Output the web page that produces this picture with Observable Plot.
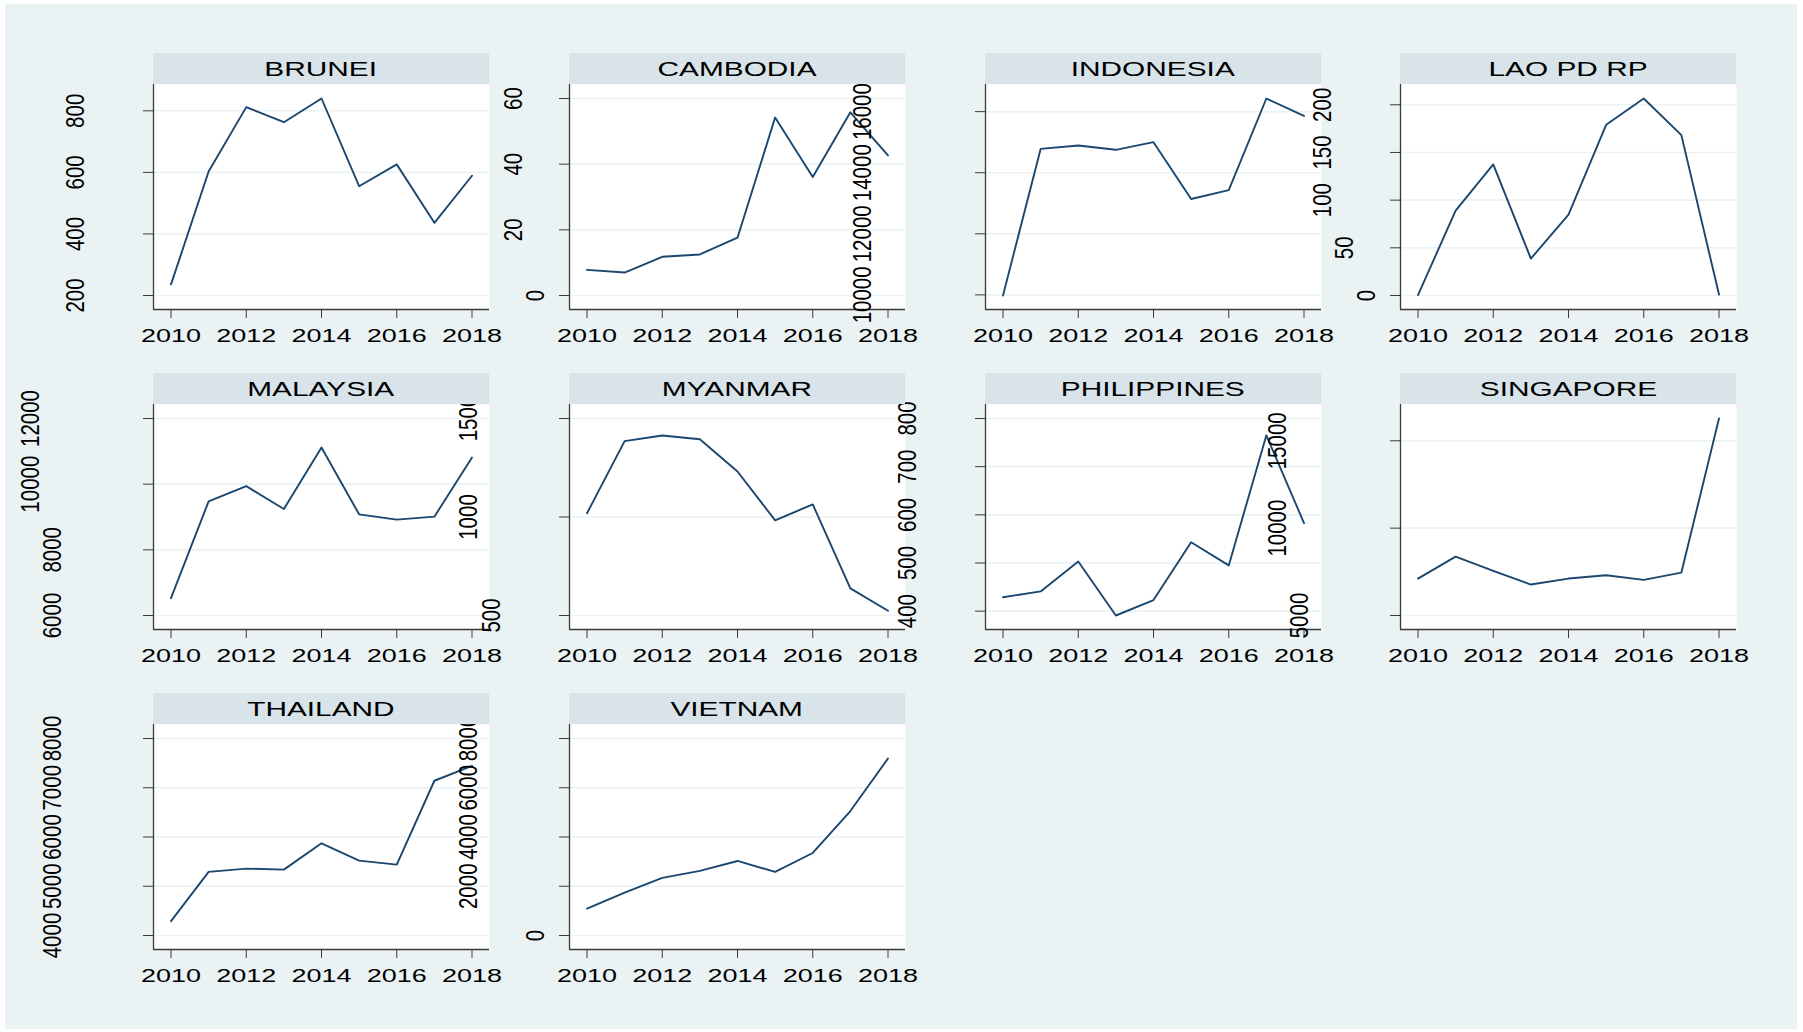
<!DOCTYPE html>
<html>
<head>
<meta charset="utf-8">
<script src="https://cdn.jsdelivr.net/npm/d3@7"></script>
<script src="https://cdn.jsdelivr.net/npm/@observablehq/plot@0.6"></script>
<style>
  html, body { margin: 0; padding: 0; background: #ffffff; }
  #root { position: relative; width: 1803px; height: 1032px; background: #ffffff; overflow: hidden;
          font-family: "Liberation Sans", Arial, Helvetica, sans-serif; }
  #bg { position: absolute; left: 5px; top: 4px; width: 1792px; height: 1025px; background: #eaf2f3; }
  .panel { position: absolute; width: 336px; }
  .panel svg { overflow: visible; max-width: none; }
  .strip { position: absolute; width: 336px; height: 31px; background: #d8e4e9; text-align: center;
           line-height: 32px; font-size: 21px; color: #000; z-index: 5; }
  .strip span { display: inline-block; transform: scaleX(1.42); }
</style>
</head>
<body>
<div id="root"><div id="bg"></div></div>
<script>
// ---- data ----
const years = [2010, 2011, 2012, 2013, 2014, 2015, 2016, 2017, 2018];
const xTicks = [2010, 2012, 2014, 2016, 2018];
const countries = ["BRUNEI", "CAMBODIA", "INDONESIA", "LAO PD RP", "MALAYSIA",
                   "MYANMAR", "PHILIPPINES", "SINGAPORE", "THAILAND", "VIETNAM"];

const brunei      = [236, 603, 812, 763, 840, 555, 626, 436, 589];
const cambodia    = [7.8, 7.0, 11.8, 12.5, 17.6, 54.2, 36.1, 55.8, 42.7];
const indonesia   = [9980, 14780, 14890, 14750, 15000, 13140, 13430, 16430, 15860];
const lao         = [0.5, 89, 137.5, 38.7, 84.8, 179, 206.6, 168.2, 1.0];
const malaysia    = [6527, 9476, 9942, 9243, 11118, 9081, 8919, 9010, 10814];
const myanmar     = [1019, 1385, 1414, 1395, 1231, 983, 1064, 638, 524];
const philippines = [429, 441, 503, 391, 423, 543, 495, 765, 583];
const singapore   = [7114, 8371, 7552, 6771, 7114, 7305, 7038, 7457, 16276];
const thailand    = [4291, 5291, 5358, 5338, 5872, 5520, 5439, 7142, 7446];
const vietnam     = [1095, 1743, 2338, 2622, 3027, 2581, 3351, 5054, 7189];

const bruneiTicks      = [200, 400, 600, 800];
const cambodiaTicks    = [0, 20, 40, 60];
const indonesiaTicks   = [10000, 12000, 14000, 16000];
const laoTicks         = [0, 50, 100, 150, 200];
const malaysiaTicks    = [6000, 8000, 10000, 12000];
const myanmarTicks     = [500, 1000, 1500];
const philippinesTicks = [400, 500, 600, 700, 800];
const singaporeTicks   = [5000, 10000, 15000];
const thailandTicks    = [4000, 5000, 6000, 7000, 8000];
const vietnamTicks     = [0, 2000, 4000, 6000, 8000];

const series = [brunei, cambodia, indonesia, lao, malaysia, myanmar, philippines, singapore, thailand, vietnam];
const tickSets = [bruneiTicks, cambodiaTicks, indonesiaTicks, laoTicks, malaysiaTicks, myanmarTicks,
                  philippinesTicks, singaporeTicks, thailandTicks, vietnamTicks];

// ---- layout ----
const colLeft = [153, 569, 985, 1400];
const rowTop = [53, 373, 693];
const stripH = 31, plotW = 336, plotH = 225, bottomM = 45;
const insetX = 17.5, insetY = 14;
const stretchH = 1.42;   // horizontal widening of upright text
const stretchR = 1.25;   // horizontal widening of rotated text
const lineColor = "#1a476f";

const root = document.getElementById("root");

function padded(ext, px, size) {
  const u = (ext[1] - ext[0]) / (size - 2 * px);
  return [ext[0] - px * u, ext[1] + px * u];
}

const xDom = padded(d3.extent(years), insetX, plotW);

countries.forEach((name, i) => {
  const row = Math.floor(i / 4), col = i % 4;
  const vals = series[i], ticks = tickSets[i];
  const data = years.map((yr, k) => ({year: yr, value: vals[k]}));
  const yDom = padded(d3.extent([...vals, ...ticks]), insetY, plotH);

  const groups = d3.groups(ticks, d => String(d).length);
  const labelMarks = groups.map(([n, g]) =>
    Plot.text(g, {
      y: d => d, text: d => String(d), frameAnchor: "left", rotate: -90,
      dx: -(11 + 22.4 * n), fontSize: 20.5, fill: "#000",
      textAnchor: "middle", lineAnchor: "middle"
    })
  );

  const chart = Plot.plot({
    width: plotW, height: plotH + bottomM,
    marginLeft: 0, marginRight: 0, marginTop: 0, marginBottom: bottomM,
    x: {domain: xDom, label: null},
    y: {domain: yDom, label: null},
    style: {overflow: "visible", background: "transparent", fontFamily: "'Liberation Sans', Arial, sans-serif", color: "#000", maxWidth: "none"},
    marks: [
      Plot.frame({fill: "white", stroke: null}),
      Plot.gridY(ticks, {stroke: "#eaf2f3", strokeOpacity: 1, strokeWidth: 1.6}),
      Plot.line(data, {x: "year", y: "value", stroke: lineColor, strokeWidth: 1.9}),
      Plot.ruleX([xDom[0]], {stroke: "#3a3a3a", strokeWidth: 1.3}),
      Plot.ruleY([yDom[0]], {stroke: "#3a3a3a", strokeWidth: 1.3}),
      Plot.axisY({ticks, tickSize: 10, tickFormat: () => "", label: null, stroke: "#3a3a3a"}),
      Plot.axisX({ticks: xTicks, tickSize: 9, tickPadding: 10, fontSize: 19, label: null,
                  tickFormat: d => String(d), stroke: "#3a3a3a", fill: "#000"}),
      ...labelMarks
    ]
  });

  // horizontal widening of all text, matching the reference's wide lettering
  chart.querySelectorAll("text").forEach(t => {
    let tr = t.getAttribute("transform");
    if (!tr) {
      const x = +t.getAttribute("x") || 0, y = +t.getAttribute("y") || 0;
      t.removeAttribute("x"); t.removeAttribute("y");
      tr = `translate(${x},${y})`;
    }
    t.setAttribute("transform", tr.includes("rotate") ? `${tr} scale(1,${stretchR})` : `${tr} scale(${stretchH},1)`);
  });

  const div = document.createElement("div");
  div.className = "panel";
  div.style.left = colLeft[col] + "px";
  div.style.top = (rowTop[row] + stripH) + "px";
  div.appendChild(chart);
  root.appendChild(div);
});

countries.forEach((name, i) => {
  const row = Math.floor(i / 4), col = i % 4;
  const strip = document.createElement("div");
  strip.className = "strip";
  strip.style.left = colLeft[col] + "px";
  strip.style.top = rowTop[row] + "px";
  const span = document.createElement("span");
  span.textContent = name;
  strip.appendChild(span);
  root.appendChild(strip);
});
</script>
</body>
</html>
